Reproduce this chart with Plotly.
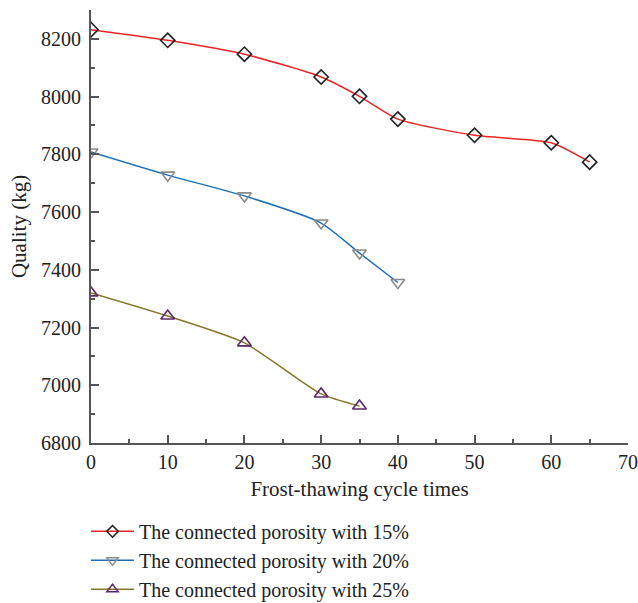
import plotly.graph_objects as go

cycles_15 = [0, 10, 20, 30, 35, 40, 50, 60, 65]
quality_15 = [8232, 8195, 8147, 8068, 8001, 7922, 7866, 7840, 7773]

cycles_20 = [0, 10, 20, 30, 35, 40]
quality_20 = [7808, 7728, 7656, 7562, 7458, 7356]

cycles_25 = [0, 10, 20, 30, 35]
quality_25 = [7320, 7240, 7147, 6970, 6928]

series_names = [
    "The connected porosity with 15%",
    "The connected porosity with 20%",
    "The connected porosity with 25%",
]

FONT = "Liberation Serif"
AXIS = "#555555"

styles = [
    dict(line="#e8262a", symbol="diamond-open", mcolor="#222222", size=11),
    dict(line="#1f6fb4", symbol="triangle-down-open", mcolor="#8c8c8c", size=12),
    dict(line="#85782e", symbol="triangle-up-open", mcolor="#5e2a6a", size=12),
]
data = [(cycles_15, quality_15), (cycles_20, quality_20), (cycles_25, quality_25)]

fig = go.Figure()
for (xs, ys), name, st in zip(data, series_names, styles):
    fig.add_trace(go.Scatter(
        x=xs, y=ys, name=name, mode="lines+markers", legendgroup=name, showlegend=False,
        line=dict(color=st["line"], width=1.5, shape="spline", smoothing=0.6),
        marker=dict(symbol=st["symbol"], size=st["size"], color=st["mcolor"], line=dict(width=1.6)),
    ))
# legend keys with smaller markers
for name, st in zip(series_names, styles):
    fig.add_trace(go.Scatter(
        x=[None], y=[None], name=name, mode="lines+markers", legendgroup=name,
        line=dict(color=st["line"], width=1.5),
        marker=dict(symbol=st["symbol"], size=st["size"] - 2, color=st["mcolor"], line=dict(width=1.5)),
    ))

fig.update_layout(
    width=638, height=603,
    margin=dict(l=91, r=10, t=10, b=160, autoexpand=False),
    paper_bgcolor="white", plot_bgcolor="white",
    font=dict(family=FONT, size=21, color="#222222"),
    showlegend=True,
    legend=dict(
        x=-0.0093, y=-0.159, xanchor="left", yanchor="top",
        font=dict(family=FONT, size=20, color="#222222"),
        bgcolor="rgba(0,0,0,0)", tracegroupgap=0, itemwidth=43,
    ),
    xaxis=dict(
        range=[0, 70], tickvals=list(range(0, 71, 10)),
        showgrid=False, zeroline=False, automargin=False,
        showline=True, linecolor=AXIS, linewidth=2,
        ticks="inside", ticklen=8, tickwidth=1.5, tickcolor=AXIS,
        minor=dict(ticks="inside", ticklen=4, tickwidth=1.5, tickcolor=AXIS, dtick=5, showgrid=False),
        title=dict(text="Frost-thawing cycle times", font=dict(family=FONT, size=21), standoff=9),
        tickfont=dict(family=FONT, size=20),
    ),
    yaxis=dict(
        range=[6800, 8300], tickvals=list(range(6800, 8201, 200)),
        showgrid=False, zeroline=False, automargin=False,
        showline=True, linecolor=AXIS, linewidth=2,
        ticks="inside", ticklen=8, tickwidth=1.5, tickcolor=AXIS,
        minor=dict(ticks="inside", ticklen=4, tickwidth=1.5, tickcolor=AXIS, dtick=100, showgrid=False),
        title=dict(text="Quality (kg)", font=dict(family=FONT, size=21), standoff=9),
        tickfont=dict(family=FONT, size=20), ticklabelstandoff=4,
    ),
)

fig.write_html("out.html")
